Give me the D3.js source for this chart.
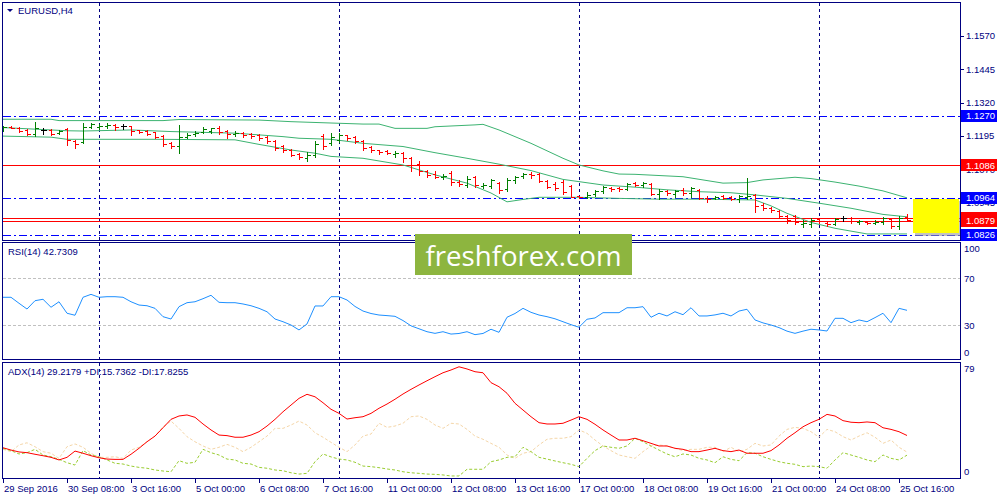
<!DOCTYPE html>
<html><head><meta charset="utf-8">
<script src="https://cdn.jsdelivr.net/npm/d3@7"></script>
<style>
body{margin:0;background:#fff}
svg{display:block}
text{font-family:"Liberation Sans",Arial,sans-serif}
</style>
</head><body>
<svg id="c" width="1000" height="500"></svg>
<script>
// ---------------- DATA ----------------
const symbol = "EURUSD,H4";
const timeLabels = ["29 Sep 2016","30 Sep 08:00","3 Oct 16:00","5 Oct 00:00","6 Oct 08:00","7 Oct 16:00","11 Oct 00:00","12 Oct 08:00","13 Oct 16:00","17 Oct 00:00","18 Oct 08:00","19 Oct 16:00","21 Oct 00:00","24 Oct 08:00","25 Oct 16:00"];
const timeLabelBars = [0,8,16,24,32,40,48,56,64,72,80,88,96,104,112];
const weekSeparatorBars = [12,42,72,102];

const open = [1.1218,1.1229,1.1225,1.1218,1.1203,1.1218,1.1218,1.1207,1.1222,1.1177,
 1.1173,1.1229,1.1229,1.1233,1.1237,1.1233,1.1233,1.1218,1.1214,1.1210,
 1.1195,1.1169,1.1158,1.1192,1.1203,1.1210,1.1214,1.1225,1.1214,1.1203,
 1.1207,1.1203,1.1199,1.1192,1.1177,1.1158,1.1143,1.1128,1.1113,1.1124,
 1.1195,1.1169,1.1180,1.1199,1.1192,1.1177,1.1154,1.1143,1.1139,1.1128,
 1.1132,1.1113,1.1091,1.1065,1.1053,1.1042,1.1057,1.1023,1.1012,1.1042,
 1.1008,1.1008,1.1020,1.0997,1.1031,1.1046,1.1053,1.1053,1.1027,1.1016,
 1.1023,1.1008,1.0971,1.0967,1.0979,1.0990,1.1001,1.1001,1.0997,1.1020,
 1.1012,1.1016,1.0979,1.0990,1.0979,1.0994,1.0982,1.0994,1.0964,1.0964,
 1.0971,1.0967,1.0960,1.0967,1.0975,1.0937,1.0926,1.0915,1.0896,1.0896,
 1.0866,1.0866,1.0885,1.0870,1.0866,1.0889,1.0889,1.0874,1.0874,1.0870,
 1.0874,1.0885,1.0859,1.0893];
const high = [1.1233,1.1233,1.1229,1.1222,1.1248,1.1225,1.1222,1.1218,1.1225,1.1180,
 1.1244,1.1244,1.1240,1.1244,1.1240,1.1240,1.1233,1.1218,1.1218,1.1210,
 1.1199,1.1173,1.1237,1.1207,1.1214,1.1229,1.1225,1.1233,1.1218,1.1214,
 1.1210,1.1207,1.1203,1.1195,1.1180,1.1162,1.1147,1.1132,1.1136,1.1177,
 1.1203,1.1207,1.1207,1.1199,1.1195,1.1180,1.1158,1.1143,1.1143,1.1139,
 1.1136,1.1117,1.1102,1.1068,1.1065,1.1053,1.1065,1.1031,1.1046,1.1046,
 1.1020,1.1035,1.1023,1.1038,1.1046,1.1057,1.1061,1.1057,1.1031,1.1023,
 1.1031,1.1012,1.0971,1.0986,1.0994,1.1008,1.1005,1.1005,1.1020,1.1023,
 1.1023,1.1020,1.0997,1.0994,1.0994,1.1001,1.1005,1.0997,1.0971,1.0971,
 1.0975,1.0971,1.0975,1.1038,1.0979,1.0945,1.0930,1.0919,1.0900,1.0900,
 1.0881,1.0889,1.0889,1.0874,1.0889,1.0896,1.0893,1.0881,1.0878,1.0881,
 1.0893,1.0889,1.0896,1.0904];
const low = [1.1214,1.1225,1.1210,1.1199,1.1195,1.1203,1.1199,1.1203,1.1162,1.1151,
 1.1169,1.1225,1.1222,1.1225,1.1218,1.1222,1.1199,1.1207,1.1199,1.1188,
 1.1158,1.1151,1.1132,1.1188,1.1195,1.1207,1.1207,1.1203,1.1188,1.1195,
 1.1192,1.1188,1.1180,1.1169,1.1143,1.1136,1.1121,1.1109,1.1102,1.1117,
 1.1147,1.1162,1.1173,1.1180,1.1169,1.1143,1.1136,1.1128,1.1128,1.1117,
 1.1098,1.1065,1.1050,1.1042,1.1038,1.1035,1.1012,1.1008,1.1005,1.1005,
 1.1001,1.1001,1.0982,1.0990,1.1020,1.1038,1.1038,1.1023,1.1001,1.0994,
 1.0979,1.0967,1.0964,1.0964,1.0971,1.0982,1.0990,1.0990,1.0994,1.1008,
 1.1005,1.0975,1.0960,1.0975,1.0967,1.0975,1.0967,1.0960,1.0949,1.0960,
 1.0960,1.0956,1.0949,1.0960,1.0911,1.0919,1.0911,1.0889,1.0870,1.0866,
 1.0855,1.0855,1.0870,1.0859,1.0863,1.0878,1.0870,1.0866,1.0866,1.0866,
 1.0866,1.0851,1.0848,1.0878];
const close = [1.1229,1.1225,1.1214,1.1203,1.1225,1.1218,1.1203,1.1214,1.1180,1.1166,
 1.1229,1.1240,1.1233,1.1237,1.1229,1.1233,1.1214,1.1210,1.1203,1.1192,
 1.1166,1.1158,1.1192,1.1199,1.1207,1.1222,1.1225,1.1210,1.1203,1.1207,
 1.1199,1.1195,1.1188,1.1177,1.1151,1.1143,1.1124,1.1117,1.1124,1.1166,
 1.1158,1.1192,1.1199,1.1188,1.1177,1.1151,1.1143,1.1136,1.1132,1.1132,
 1.1113,1.1087,1.1065,1.1050,1.1042,1.1046,1.1023,1.1016,1.1035,1.1012,
 1.1012,1.1031,1.0994,1.1031,1.1042,1.1053,1.1050,1.1027,1.1005,1.1001,
 1.0986,1.0967,1.0967,1.0975,1.0990,1.1005,1.0997,1.0997,1.1016,1.1012,
 1.1020,1.0979,1.0990,1.0982,1.0990,1.0982,1.1001,1.0964,1.0960,1.0967,
 1.0964,1.0960,1.0971,1.0971,1.0934,1.0926,1.0919,1.0896,1.0881,1.0874,
 1.0870,1.0881,1.0878,1.0866,1.0885,1.0889,1.0878,1.0878,1.0870,1.0874,
 1.0889,1.0859,1.0889,1.0881];

// Bollinger bands (bar index, price)
const bbUpperBars = [0,6,7,20,22,32,36,40,42,45,47,49,53,54,59,60,62,66,70,72,75,77,79,85,90,93,95,99,101,104,107,110,113];
const bbUpper = [1.1258,1.1258,1.1253,1.1253,1.1257,1.1255,1.1249,1.1245,1.1243,1.1240,1.1240,1.1224,1.1224,1.1230,1.1237,1.1239,1.1218,1.1168,1.1112,1.1087,1.1065,1.1053,1.1052,1.1043,1.1019,1.1021,1.1031,1.1041,1.1036,1.1023,1.1008,1.0990,1.0964];
const bbMiddleBars = [0,8,10,16,21,29,35,37,41,45,50,54,58,62,66,70,75,79,83,87,91,94,98,102,106,110,113];
const bbMiddle = [1.1227,1.1215,1.1214,1.1218,1.1212,1.1206,1.1193,1.1187,1.1183,1.1168,1.1156,1.1133,1.1112,1.1090,1.1066,1.1033,1.1012,1.1004,1.0994,1.0987,1.0983,1.0975,1.0962,1.0944,1.0925,1.0902,1.0893];
const bbLowerBars = [0,6,8,19,29,32,36,39,41,45,50,54,58,61,63,65,67,72,77,82,87,94,96,98,101,104,108,113];
const bbLower = [1.1195,1.1191,1.1183,1.1183,1.1181,1.1164,1.1143,1.1131,1.1119,1.1112,1.1087,1.1050,1.1019,1.0982,1.0949,1.0958,1.0966,1.0966,1.0962,1.0959,1.0959,1.0956,1.0934,1.0906,1.0872,1.0850,1.0829,1.0829];

const priceTicks = [1.1570,1.1445,1.1320,1.1195,1.1070,1.0945,1.0820];
const blueLevels = [1.1270,1.0964,1.0826];
const redLevels = [1.1086,1.0888,1.0879];
const labelLevels = [1.1270,1.1086,1.0964,1.0879,1.0826];
const labelColors = ["#0000ff","#ff0000","#0000ff","#ff0000","#0000ff"];
const hiddenLabelLevel = 1.0888;

const rsi = [53.8,53.8,48.7,43.8,50.9,52.1,45.3,50.0,40.2,38.5,
 53.8,56.3,53.8,54.3,54.3,53.8,50.0,47.2,46.6,44.4,
 37.3,35.3,45.8,49.2,50.0,52.6,55.5,49.5,49.2,49.2,
 48.1,46.6,44.4,41.5,35.3,33.0,30.2,26.0,31.1,46.4,
 46.4,54.3,54.3,51.5,46.0,42.1,40.0,38.7,38.2,37.6,
 34.0,29.5,27.0,24.5,23.1,24.5,22.5,23.0,24.5,22.0,
 23.0,26.6,24.0,36.8,40.0,44.4,41.0,38.7,37.3,35.5,
 33.0,30.5,28.3,35.1,36.2,40.7,40.7,40.7,44.9,44.9,
 45.8,36.8,40.2,37.9,41.5,39.0,44.9,37.9,37.9,38.8,
 40.2,37.9,42.1,43.6,34.5,32.0,30.2,28.0,25.0,23.1,
 25.0,26.6,26.0,25.1,35.9,35.9,32.2,34.5,33.0,36.5,
 40.2,32.2,44.4,42.7];
const rsiLevels = [70,30];
const rsiTicks = [100,70,30,0];

const adx = [20.8,19.2,17.9,17.4,16.3,15.3,14.2,12.4,14.2,18.5,17.0,15.3,13.9,13.0,12.8,12.8,16.3,20.4,24.9,28.8,34.5,40.3,42.6,43.3,41.7,37.1,33.0,29.5,29.1,28.0,28.0,29.5,31.8,35.7,40.3,45.5,50.1,54.7,57.5,55.8,51.7,47.2,
 44.4,40.5,41.4,42.1,44.4,47.9,50.8,54.1,57.7,60.9,63.9,66.8,69.6,72.3,74.2,76.4,74.9,73.0,72.3,65.5,62.7,58.2,51.3,46.7,42.1,38.0,37.1,37.1,37.6,39.8,42.1,40.3,36.9,33.0,29.5,26.1,26.1,27.3,25.6,23.8,22.0,
 22.0,20.4,19.7,18.1,18.1,19.2,20.4,18.8,18.1,19.2,17.0,17.0,17.0,18.8,22.7,27.3,31.1,35.2,38.0,40.3,43.7,42.6,39.4,38.3,38.0,38.5,38.0,34.5,33.4,31.8,29.2];
const plusDI = [20.4,18.8,16.5,17.4,19.7,15.8,14.6,12.8,10.5,8.9,18.8,15.8,14.6,12.4,10.1,9.6,8.2,7.3,6.7,5.5,4.8,4.3,11.9,10.1,10.8,19.7,17.4,15.8,13.0,12.4,10.1,9.6,7.3,6.7,5.5,5.0,3.6,2.7,3.2,11.2,16.5,14.5,
 13.0,12.4,10.8,8.2,7.8,7.1,6.2,5.5,4.3,3.6,3.2,2.7,2.5,2.1,1.4,1.4,6.0,6.0,6.0,11.2,12.4,14.2,14.6,21.1,18.1,14.2,13.0,11.7,10.5,9.4,7.8,13.5,18.8,22.0,21.1,20.4,22.0,27.3,24.9,22.0,19.2,
 16.5,14.6,16.5,15.8,13.5,12.4,10.5,14.6,12.8,11.9,17.4,17.0,14.6,12.8,11.2,10.1,9.4,7.8,8.2,7.8,6.7,12.4,17.4,15.8,14.2,12.4,11.2,15.8,13.5,12.4,15.7];
const minusDI = [19.7,18.1,22.7,24.2,21.5,18.1,17.0,13.5,21.5,23.4,21.1,17.0,14.2,14.2,14.6,13.5,19.2,21.1,24.9,28.8,35.2,39.1,34.1,28.4,24.9,22.0,19.7,21.1,23.1,21.1,18.1,21.1,24.9,28.8,34.1,34.1,36.4,39.1,36.4,31.1,28.0,24.5,
 21.1,18.1,22.7,28.8,30.2,37.6,34.8,35.7,37.6,42.1,42.6,40.3,36.4,34.1,37.6,37.1,33.4,28.8,26.6,23.8,21.1,15.8,13.5,17.0,18.1,22.7,26.6,27.3,27.3,28.4,33.0,30.7,26.1,22.0,18.8,15.8,14.6,13.5,18.1,22.0,22.7,
 22.0,20.4,18.8,19.7,19.7,21.1,21.1,18.1,21.1,18.1,19.7,23.8,22.0,22.7,28.8,33.4,34.8,34.1,31.8,28.0,33.4,31.8,28.4,26.1,28.8,31.1,28.0,23.8,26.1,21.1,17.8];
const adxTicks = [79,0];
const rsiTitle = "RSI(14) 42.7309";
const adxTitle = "ADX(14) 29.2179 +DI:15.7362 -DI:17.8255";
const watermark = "freshforex.com";

// ---------------- LAYOUT ----------------
const svg = d3.select("#c");
const NAVY = "#000080";
const L = 2.5, R = 960.5;
const P = {main:[2.5,240.5], rsi:[242.5,359.5], adx:[362.5,478.5]};

const x = d3.scaleLinear().domain([0,113]).range([3,907]);
const yP = d3.scaleLinear().domain([1.0810,1.1693]).range([239,3]);
const yR = d3.scaleLinear().domain([0,100]).range([360.5,243]);
const yA = d3.scaleLinear().domain([0,79]).range([478,363]);
const cx = i => Math.round(x(i)) + 0.5;

svg.append("rect").attr("width",1000).attr("height",500).attr("fill","#fff");

const defs = svg.append("defs");
Object.entries(P).forEach(([k,[t,b]])=>{
  defs.append("clipPath").attr("id","clip-"+k).append("rect")
    .attr("x",L+0.5).attr("y",t+0.5).attr("width",R-L-1).attr("height",b-t-1);
});

// period separators
Object.entries(P).forEach(([k,[t,b]])=>{
  svg.append("g").selectAll("line").data(weekSeparatorBars).join("line")
    .attr("x1",d=>cx(d)).attr("x2",d=>cx(d)).attr("y1",t).attr("y2",b)
    .attr("stroke",NAVY).attr("stroke-width",1).attr("stroke-dasharray","3,3")
    .attr("shape-rendering","crispEdges");
});

// ---------- main panel ----------
const gm = svg.append("g").attr("clip-path","url(#clip-main)");
const crisp = v => Math.round(v)+0.5;
gm.selectAll("line.blue").data(blueLevels).join("line")
  .attr("x1",L).attr("x2",R).attr("y1",d=>crisp(yP(d))).attr("y2",d=>crisp(yP(d)))
  .attr("stroke","#0000ff").attr("stroke-dasharray","8,3,2,3").attr("shape-rendering","crispEdges");
gm.selectAll("line.red").data(redLevels).join("line")
  .attr("x1",L).attr("x2",R).attr("y1",d=>crisp(yP(d))).attr("y2",d=>crisp(yP(d)))
  .attr("stroke","#ff0000").attr("shape-rendering","crispEdges");

const bbLine = d3.line().x(d=>x(d[0])).y(d=>yP(d[1]));
[[bbUpperBars,bbUpper],[bbMiddleBars,bbMiddle],[bbLowerBars,bbLower]].forEach(([bi,bv])=>{
  gm.append("path").datum(bi.map((b,k)=>[b,bv[k]])).attr("d",bbLine)
    .attr("fill","none").attr("stroke","#3cb371").attr("stroke-width",1);
});

const bars = d3.range(open.length).map(i=>({i,o:open[i],h:high[i],l:low[i],c:close[i]}));
const col = d => d.c>d.o ? "#007f00" : (d.c<d.o ? "#ff0000" : "#000000");
const gb = gm.append("g").attr("shape-rendering","crispEdges");
const bg = gb.selectAll("g").data(bars).join("g").attr("stroke",col);
bg.append("line").attr("x1",d=>cx(d.i)).attr("x2",d=>cx(d.i))
  .attr("y1",d=>Math.round(yP(d.h))).attr("y2",d=>Math.round(yP(d.l))+1);
bg.append("line").attr("x1",d=>cx(d.i)-3).attr("x2",d=>cx(d.i))
  .attr("y1",d=>crisp(yP(d.o))).attr("y2",d=>crisp(yP(d.o)));
bg.append("line").attr("x1",d=>cx(d.i)).attr("x2",d=>cx(d.i)+3)
  .attr("y1",d=>crisp(yP(d.c))).attr("y2",d=>crisp(yP(d.c)));

// yellow box
svg.append("rect").attr("x",915).attr("y",201).attr("width",46).attr("height",35).attr("fill","#9a9a9a").attr("opacity",0.6);
svg.append("rect").attr("x",913).attr("y",199).attr("width",46).attr("height",34).attr("fill","#ffff00");

// title
svg.append("path").attr("d","M7,9 L13,9 L10,12 Z").attr("fill",NAVY);
svg.append("text").attr("x",18).attr("y",14).attr("font-size",9.5).attr("fill",NAVY).text(symbol);

// price axis
const pt = svg.append("g");
pt.selectAll("line").data(priceTicks).join("line")
  .attr("x1",R).attr("x2",R+3).attr("y1",d=>crisp(yP(d))).attr("y2",d=>crisp(yP(d)))
  .attr("stroke",NAVY).attr("shape-rendering","crispEdges");
pt.selectAll("text").data(priceTicks).join("text")
  .attr("x",966).attr("y",d=>yP(d)).attr("dy","0.35em").attr("font-size",9.5).attr("fill",NAVY)
  .text(d=>d.toFixed(4));
// partly hidden red label box behind 1.0879
svg.append("rect").attr("x",961).attr("y",Math.round(yP(hiddenLabelLevel))-6).attr("width",36).attr("height",12).attr("fill","#ff0000");
const lb = svg.append("g").selectAll("g").data(labelLevels).join("g");
lb.append("rect").attr("x",961).attr("y",d=>Math.round(yP(d))-6).attr("width",36).attr("height",12)
  .attr("fill",(d,k)=>labelColors[k]);
lb.append("text").attr("x",966).attr("y",d=>yP(d)).attr("dy","0.35em").attr("font-size",9.5)
  .attr("fill","#fff").text(d=>d.toFixed(4));

// ---------- RSI panel ----------
const gr = svg.append("g").attr("clip-path","url(#clip-rsi)");
gr.selectAll("line").data(rsiLevels).join("line")
  .attr("x1",L).attr("x2",R).attr("y1",d=>crisp(yR(d))).attr("y2",d=>crisp(yR(d)))
  .attr("stroke","#c0c0c0").attr("stroke-dasharray","3,2").attr("shape-rendering","crispEdges");
gr.append("path").datum(rsi).attr("d",d3.line().x((d,i)=>x(i)).y(d=>yR(d)))
  .attr("fill","none").attr("stroke","#1e90ff").attr("stroke-width",1);
svg.append("text").attr("x",8).attr("y",255).attr("font-size",9.5).attr("fill",NAVY).text(rsiTitle);
svg.append("g").selectAll("text").data(rsiTicks).join("text")
  .attr("x",964).attr("y",d=>Math.max(249,Math.min(353,yR(d)))).attr("dy","0.35em")
  .attr("font-size",9.5).attr("fill",NAVY).text(d=>d);

// ---------- ADX panel ----------
const ga = svg.append("g").attr("clip-path","url(#clip-adx)");
const la = d3.line().x((d,i)=>x(i)).y(d=>yA(d));
ga.append("path").datum(minusDI).attr("d",la).attr("fill","none").attr("stroke","#f5d6a8").attr("stroke-dasharray","3,2");
ga.append("path").datum(plusDI).attr("d",la).attr("fill","none").attr("stroke","#9acd32").attr("stroke-dasharray","3,2");
ga.append("path").datum(adx).attr("d",la).attr("fill","none").attr("stroke","#ff0000").attr("stroke-width",1);
svg.append("text").attr("x",8).attr("y",375).attr("font-size",9.5).attr("fill",NAVY).text(adxTitle);
svg.append("g").selectAll("text").data(adxTicks).join("text")
  .attr("x",964).attr("y",d=>Math.max(369,Math.min(472,yA(d)))).attr("dy","0.35em")
  .attr("font-size",9.5).attr("fill",NAVY).text(d=>d);

// ---------- frames ----------
Object.values(P).forEach(([t,b])=>{
  svg.append("rect").attr("x",L).attr("y",t).attr("width",R-L).attr("height",b-t)
    .attr("fill","none").attr("stroke",NAVY).attr("shape-rendering","crispEdges");
});

// ---------- time axis ----------
const ta = svg.append("g");
ta.selectAll("line").data(timeLabelBars).join("line")
  .attr("x1",d=>cx(d)).attr("x2",d=>cx(d)).attr("y1",478).attr("y2",483)
  .attr("stroke",NAVY).attr("shape-rendering","crispEdges");
ta.selectAll("text").data(timeLabelBars).join("text")
  .attr("x",d=>x(d)+1).attr("y",492).attr("font-size",9.5).attr("fill",NAVY)
  .text((d,k)=>timeLabels[k]);

// ---------- watermark ----------
svg.append("rect").attr("x",415).attr("y",234).attr("width",217).attr("height",41).attr("fill","#8db53f");
svg.append("text").attr("x",523.5).attr("y",255).attr("text-anchor","middle").attr("dominant-baseline","central")
  .style("font-family","'Open Sans',sans-serif").attr("font-size",28).attr("fill","#fff")
  .attr("textLength",196).attr("lengthAdjust","spacingAndGlyphs").text(watermark);
</script>
</body></html>
